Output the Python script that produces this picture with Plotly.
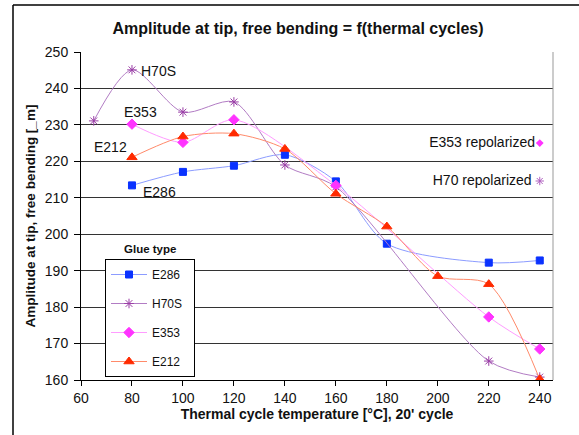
import plotly.graph_objects as go

# ---- data ----
x_e286 = [80, 100, 120, 140, 160, 180, 220, 240]
y_e286 = [213.4, 217.1, 218.8, 221.8, 214.5, 197.4, 192.2, 192.8]

x_h70s = [65, 80, 100, 120, 140, 160, 220, 240]
y_h70s = [231.1, 245.1, 233.5, 236.3, 219.0, 213.0, 165.2, 160.8]

x_e353 = [80, 100, 120, 160, 220, 240]
y_e353 = [230.2, 225.2, 231.4, 213.4, 177.3, 168.5]

x_e212 = [80, 100, 120, 140, 160, 180, 200, 220, 240]
y_e212 = [221.1, 226.8, 227.6, 223.4, 211.1, 202.1, 188.5, 186.3, 160.2]

x_e353_repol = [240]
y_e353_repol = [225.0]
x_h70_repol = [240]
y_h70_repol = [214.6]

x_ticks = [60, 80, 100, 120, 140, 160, 180, 200, 220, 240]
y_ticks = [160, 170, 180, 190, 200, 210, 220, 230, 240, 250]

FONT = "Liberation Sans, Arial, sans-serif"

# plot-area pixel geometry (for placing paper-referenced items)
PL, PR, PT, PB = 81, 553, 52, 380
PW, PH = PR - PL, PB - PT


def px(xp):
    return (xp - PL) / PW


def py(yp):
    return (PB - yp) / PH


fig = go.Figure()

series = [
    ("E286", x_e286, y_e286, "#8c9cff", "#0a32ff", "square", 7),
    ("H70S", x_h70s, y_h70s, "#b27cc4", "#9a3da6", "asterisk-open", 8),
    ("E353", x_e353, y_e353, "#ff9cff", "#ff33ff", "diamond", 8),
    ("E212", x_e212, y_e212, "#ff8a6a", "#ff2a00", "triangle-up", 9),
]
for name, xs, ys, lc, mc, sym, ms in series:
    fig.add_trace(go.Scatter(
        x=xs, y=ys, name=name + "\u00a0\u00a0", mode="lines+markers",
        line=dict(color=lc, width=1, shape="spline", smoothing=0.8),
        marker=dict(symbol=sym, size=ms, color=mc, line=dict(color=mc, width=1)),
        legendgroup=name,
    ))

fig.add_trace(go.Scatter(
    x=x_e353_repol, y=y_e353_repol, mode="markers+text", showlegend=False,
    text=["E353 repolarized"], textposition="middle left",
    textfont=dict(family=FONT, size=14, color="#111"),
    marker=dict(symbol="diamond", size=6, color="#ff33ff"),
))
fig.add_trace(go.Scatter(
    x=x_h70_repol, y=y_h70_repol, mode="markers+text", showlegend=False,
    text=["H70 repolarized\u2009"], textposition="middle left",
    textfont=dict(family=FONT, size=14, color="#111"),
    marker=dict(symbol="asterisk-open", size=7, color="#b060c0",
                line=dict(color="#b060c0", width=1)),
))

# point labels
labels = [
    ("H70S", 80, 245.1, 7, -1, "left"),
    ("E353", 80, 230.2, 9, 12, "center"),
    ("E212", 80, 221.1, -21, 10, "center"),
    ("E286", 80, 213.4, 28, -7, "center"),
]
for t, lx, ly, xs, ys, xa in labels:
    fig.add_annotation(x=lx, y=ly, text=t, showarrow=False, xanchor=xa,
                       xshift=xs, yshift=ys,
                       font=dict(family=FONT, size=14, color="#111"))

fig.add_annotation(x=px(150), y=py(249), xref="paper", yref="paper",
                   xanchor="center", yanchor="middle",
                   text="<b>Glue type</b>", showarrow=False,
                   font=dict(family=FONT, size=11.5, color="#111"))

# outer chart border (left and top edges visible)
fig.add_shape(type="line", xref="paper", yref="paper",
              x0=px(13), x1=px(13), y0=py(5), y1=-0.3,
              line=dict(color="#000", width=1.5))
fig.add_shape(type="line", xref="paper", yref="paper",
              x0=px(13), x1=1.2, y0=py(5), y1=py(5),
              line=dict(color="#000", width=1.5))
# plot-area right border
fig.add_shape(type="line", xref="paper", yref="paper", x0=1, x1=1, y0=0, y1=1,
              line=dict(color="#999", width=1))

fig.update_layout(
    width=579, height=435,
    margin=dict(l=PL, r=579 - PR, t=PT, b=435 - PB, autoexpand=False),
    paper_bgcolor="white", plot_bgcolor="white",
    title=dict(text="<b>Amplitude at tip, free bending = f(thermal cycles)</b>",
               x=298 / 579, xanchor="center", y=1 - 28 / 435, yanchor="middle",
               font=dict(family=FONT, size=16, color="#111")),
    font=dict(family=FONT, size=14, color="#111"),
    legend=dict(x=px(105), y=py(259), xanchor="left", yanchor="top",
                bordercolor="#000", borderwidth=1, bgcolor="white",
                font=dict(family=FONT, size=12, color="#111"),
                tracegroupgap=10, itemwidth=36),
    xaxis=dict(range=[60, 245.2], tickvals=x_ticks, showgrid=False, zeroline=False,
               showline=True, linecolor="#000", linewidth=1, ticks="outside",
               ticklen=5, tickcolor="#000", tickfont=dict(size=14),
               title=dict(text="<b>Thermal cycle temperature [°C], 20' cycle</b>",
                          font=dict(family=FONT, size=14), standoff=3)),
    yaxis=dict(range=[160, 250], tickvals=y_ticks, showgrid=True, gridcolor="#333",
               gridwidth=1, zeroline=False, showline=True, linecolor="#000", linewidth=1,
               ticks="outside", ticklen=6, tickcolor="#000", tickfont=dict(size=14),
               ticklabelstandoff=3,
               title=dict(text="<b>Amplitude at tip, free bending [_m]</b>",
                          font=dict(family=FONT, size=13.5), standoff=6)),
)

fig.write_html("out.html", post_script="document.body.style.margin='0';",
               config={"displayModeBar": False})
